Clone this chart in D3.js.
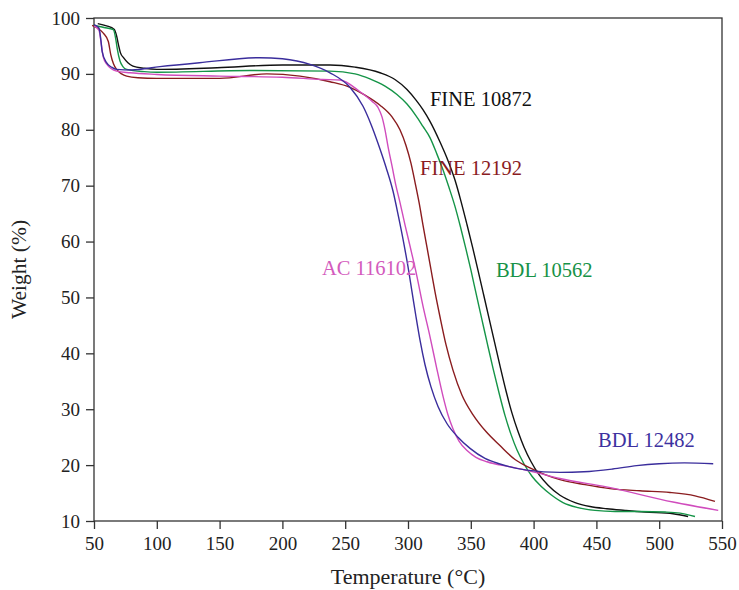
<!DOCTYPE html>
<html><head><meta charset="utf-8">
<script src="https://cdn.jsdelivr.net/npm/d3@7"></script>
<style>body{margin:0;background:#fff}svg{display:block}</style>
</head><body>
<svg id="c" width="739" height="590"></svg>
<script>
const xTicks = [50,100,150,200,250,300,350,400,450,500,550];
const yTicks = [10,20,30,40,50,60,70,80,90,100];

const fine10872T = [53,60,66,68,69.5,71,73.5,77,81,90,100,148,200,237.9,257.8,277.7,289.6,299.2,306.4,311.9,317.5,325.5,331.8,337.4,342.2,347,351.4,355.7,360.1,364.5,368.9,373.2,378,382.8,387.6,392.4,398,404.3,411.5,421,433,444.9,458.4,472.8,488.7,511,523];
const fine10872W = [99.0,98.6,98.0,96.8,95.2,93.8,92.9,92.0,91.4,91.0,90.8,91.1,91.6,91.6,91.2,90.2,89.0,87.2,85.3,83.6,81.5,77.8,74.5,71.0,67.2,63.0,59.0,54.9,50.6,46.3,42.0,37.8,33.3,29.3,26.0,23.2,20.6,18.3,16.4,14.6,13.3,12.6,12.2,11.9,11.6,11.3,10.8];

const bdl10562T = [49.5,58,65.4,67.5,68.5,70.7,73,76,90,100,174,237.9,257.8,269.7,281.7,291.2,299.2,306.4,311.9,317.5,323.1,327.9,332.6,337.4,341.8,346.2,350.2,354.5,358.9,363.3,367.7,372.5,377.2,382,386.8,392.4,398.7,405.9,413.9,423.4,435.4,448.9,464.8,484.7,504.6,516.6,528.5];
const bdl10562W = [98.7,98.3,97.9,96.0,94.5,92.3,91.3,90.8,90.4,90.3,90.6,90.5,90.0,89.1,87.8,86.3,84.6,82.5,80.6,78.6,75.6,72.8,69.7,66.3,62.6,58.6,54.8,50.4,46.0,41.6,37.3,32.9,28.9,25.5,22.7,20.2,18.0,16.2,14.7,13.3,12.4,11.9,11.7,11.7,11.6,11.4,10.8];

const fine12192T = [48.5,52,57.4,61.4,63.3,65.5,68,72,76,85,100,150,187.5,214,237.9,253.8,265.8,277.7,287.3,293.6,298.4,302.4,305.6,308.8,311.9,315.1,318.3,321.5,325.5,330.3,335.8,343,351.8,362.1,373.2,385.2,397.1,409.1,421,440.9,460.8,484.7,508.6,528.5,544.4];
const fine12192W = [98.7,98.3,97.3,95.8,93.5,91.8,90.8,90.0,89.6,89.3,89.2,89.2,90.0,89.6,88.6,87.6,86.2,84.4,82.3,80.0,77.2,74.0,70.6,67.0,63.0,59.0,55.0,51.0,46.5,41.5,37.0,32.5,29.0,26.0,23.5,21.0,19.5,18.3,17.4,16.5,15.8,15.4,15.1,14.5,13.5];

const ac116102T = [50,54,56,57.4,60,68,78.7,100,150,200,232,245.9,261.8,271.3,276.1,279.3,281.7,284.1,287.3,290.4,293.6,297.6,301.6,306.9,311.9,317.5,322.7,327.9,331.8,335.8,340.6,347,354.1,362.9,381.2,399.5,421,458,511,547];
const ac116102W = [98.6,97.8,95.0,93.0,91.8,90.5,90.2,89.9,89.6,89.4,89.0,88.9,86.8,85.1,84.0,82.3,80.0,77.0,73.5,70.0,67.0,63.0,59.2,54.0,48.5,43.0,37.5,32.3,29.0,26.5,24.3,22.6,21.4,20.6,19.7,18.8,17.6,16.1,13.4,11.9];

const bdl12482T = [50,54,55.5,56.5,60,64,68,80,102.5,134,182,200,222,237.9,253.8,264.2,270.5,276.1,282.5,288.1,292.4,296.4,300,303.2,306.4,309.6,313.5,318.3,323.9,331.1,339.8,349.4,361.3,373.2,394.7,421,440,463,482,500,520,543];
const bdl12482W = [98.8,98.2,96.0,94.0,92.0,91.2,90.8,90.7,91.3,92.0,92.9,92.7,91.7,90.2,87.6,84.2,81.0,77.6,73.3,69.0,64.5,60.0,55.5,51.0,46.5,42.3,38.0,34.0,30.5,27.4,25.0,23.0,21.2,20.2,19.1,18.7,18.8,19.3,19.9,20.25,20.4,20.25];

const seriesNames = ["FINE 10872","BDL 10562","FINE 12192","AC 116102","BDL 12482"];
const seriesT = [fine10872T,bdl10562T,fine12192T,ac116102T,bdl12482T];
const seriesW = [fine10872W,bdl10562W,fine12192W,ac116102W,bdl12482W];
const lineColors = ["#111111","#159447","#8a1c1f","#d04cbd","#3a2d9c"];
const labelColors = ["#111111","#179247","#8a1c1f","#d35bbd","#3d31a0"];
const labelT = [317.5,370,309.6,231.5,451.3];
const labelW = [84.3,53.7,71.9,54.0,23.3];

const svg = d3.select("#c");
const L=94, R=722, T=18, B=521;
const x = d3.scaleLinear().domain([50,550]).range([L,R]);
const y = d3.scaleLinear().domain([10,100]).range([B,T]);
const font = "'Liberation Serif','Times New Roman',serif";

const xAxis = svg.append("g").attr("transform",`translate(0,${B})`)
  .call(d3.axisBottom(x).tickValues(xTicks).tickSize(8).tickPadding(8).tickFormat(d3.format("d")));
const yAxis = svg.append("g").attr("transform",`translate(${L},0)`)
  .call(d3.axisLeft(y).tickValues(yTicks).tickSize(8).tickPadding(6).tickFormat(d3.format("d")));
[xAxis,yAxis].forEach(a=>{
  a.select(".domain").remove();
  a.selectAll("line").attr("stroke","#333").attr("stroke-width",1.3);
  a.selectAll("text").attr("font-family",font).attr("font-size",19).attr("fill","#222");
});
svg.append("rect").attr("x",L).attr("y",T).attr("width",R-L).attr("height",B-T)
  .attr("fill","none").attr("stroke","#333").attr("stroke-width",1.3);

const line = d3.line().x(d=>x(d[0])).y(d=>y(d[1])).curve(d3.curveMonotoneX);
seriesT.forEach((ts,i)=>{
  const pts = ts.map((t,j)=>[t,seriesW[i][j]]);
  svg.append("path").datum(pts).attr("d",line).attr("fill","none")
    .attr("stroke",lineColors[i]).attr("stroke-width",1.4);
});
seriesNames.forEach((n,i)=>{
  svg.append("text").attr("x",x(labelT[i])).attr("y",y(labelW[i]))
    .attr("font-family",font).attr("font-size",20.5).attr("fill",labelColors[i]).text(n);
});

svg.append("text").attr("x",(L+R)/2).attr("y",584).attr("text-anchor","middle")
  .attr("font-family",font).attr("font-size",22).attr("fill","#222").text("Temperature (°C)");
svg.append("text").attr("transform",`translate(26,${(T+B)/2}) rotate(-90)`).attr("text-anchor","middle")
  .attr("font-family",font).attr("font-size",21.5).attr("fill","#222").text("Weight (%)");
</script>
</body></html>
